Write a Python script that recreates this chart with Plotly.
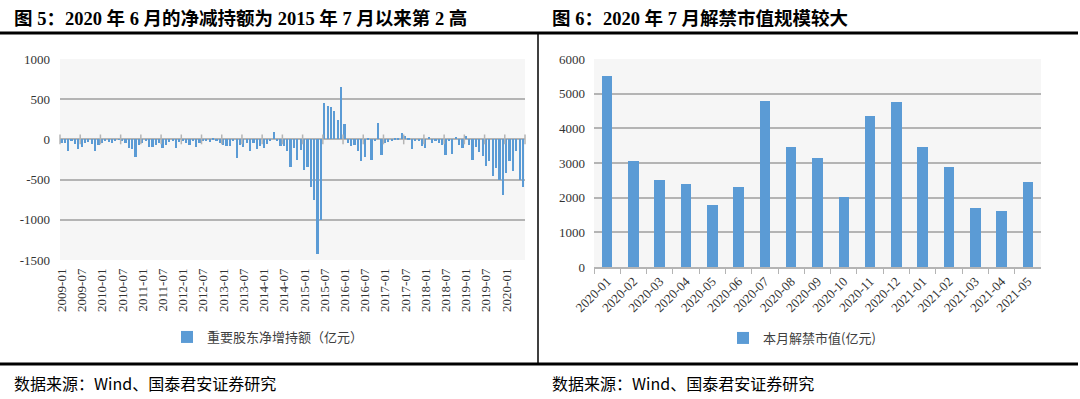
import plotly.graph_objects as go
import pandas as pd

# ---------------- data ----------------
months = [p.strftime("%Y-%m") for p in pd.period_range("2009-01", "2020-06", freq="M")]

net_holding = [
    -42, -50, -146, -21, -63, -125, -92, -42, -33, -63,
    -146, -75, -42, -21, -33, -50, -13, -4, -21, -42,
    -104, -125, -217, -75, -50, -21, -92, -92, -75, -50,
    -104, -75, -33, -21, -112, -33, -21, -50, -75, -21,
    -92, -42, -21, -13, -33, 13, -13, -42, -75, -83,
    -83, -21, -229, -75, -92, -42, -146, -50, -125, -83,
    -104, -63, -21, 96, -21,
    -83, -83, -146, -342, -104, -258, -133, -383, -342, -592,
    -758, -1430, -1000, 450, 417, 400, 354, 242, 658, 188,
    -50, -83, -75, -146, -271, -217, 10, -250, -21, 208,
    -188, -40, -33, -8, 17, 8, 83, 42, 17, -125,
    -20, -20, -83, -104, 33, -50, -25, -50, -75, -188,
    -8, -180, 29, -75, -104, 42, -75, -250, -92, -158,
    -208, -333, -271, -450, -354, -500, -688, -417, -271, -396,
    -146, -508, -592,
]

unlock_months = ["2020-01", "2020-02", "2020-03", "2020-04", "2020-05", "2020-06",
                 "2020-07", "2020-08", "2020-09", "2020-10", "2020-11", "2020-12",
                 "2021-01", "2021-02", "2021-03", "2021-04", "2021-05"]
unlock_value = [5519, 3048, 2500, 2385, 1788, 2298, 4788, 3471, 3144, 2019,
                4356, 4750, 3471, 2885, 1692, 1606, 2462]

left_yticks = [1000, 500, 0, -500, -1000, -1500]
right_yticks = [0, 1000, 2000, 3000, 4000, 5000, 6000]

left_title = "<b>图 5：2020 年 6 月的净减持额为 2015 年 7 月以来第 2 高</b>"
right_title = "<b>图 6：2020 年 7 月解禁市值规模较大</b>"
source_text = "数据来源：Wind、国泰君安证券研究"
left_series = "重要股东净增持额（亿元）"
right_series = "本月解禁市值(亿元)"

# ---------------- style ----------------
BLUE = "#5b9bd5"
GRID = "#b4b4b4"
TICKC = "#333333"
SERIF = "Liberation Serif, Noto Sans CJK SC, serif"
CJK = "Noto Sans CJK SC, sans-serif"
W, H = 1080, 399

def px_x(x):
    return x / W

def px_y(y):
    return 1 - y / H

fig = go.Figure()

idx = list(range(len(months)))
fig.add_trace(go.Bar(
    x=idx, y=net_holding, width=0.5, marker_color=BLUE, marker_line_width=0,
    name=left_series, xaxis="x", yaxis="y", legend="legend",
))
bounds = [i - 0.5 for i in range(0, len(months) + 1, 6)]
fig.add_trace(go.Scatter(
    x=bounds, y=[0] * len(bounds), mode="markers",
    marker=dict(symbol="line-ns", size=7, line=dict(color=GRID, width=1.5)),
    showlegend=False, hoverinfo="skip", xaxis="x", yaxis="y", cliponaxis=False,
))
fig.add_trace(go.Bar(
    x=unlock_months, y=unlock_value, width=0.4, marker_color=BLUE, marker_line_width=0,
    name=right_series, xaxis="x2", yaxis="y2", legend="legend2",
))

fig.update_layout(
    width=W, height=H,
    autosize=False,
    margin=dict(l=0, r=0, t=0, b=0, pad=0, autoexpand=False),
    paper_bgcolor="white",
    plot_bgcolor="#f6f6f6",
    bargap=0,
    xaxis=dict(
        domain=[px_x(60), px_x(525)], anchor="y", automargin=False,
        range=[-0.5, len(months) - 0.5],
        tickvals=idx[::6], ticktext=months[::6], tickangle=-90,
        showgrid=False, zeroline=False, ticks="", showline=False,
        ticklabelstandoff=5,
        tickfont=dict(family=SERIF, size=13, color=TICKC),
    ),
    yaxis=dict(
        domain=[px_y(260), px_y(59)], anchor="x", automargin=False,
        range=[-1500, 1000],
        tickvals=left_yticks, ticktext=[str(v) for v in left_yticks],
        showgrid=True, gridcolor=GRID, gridwidth=1.5,
        zeroline=True, zerolinecolor=GRID, zerolinewidth=1.5,
        ticks="", showline=False, ticklabelstandoff=9,
        tickfont=dict(family=SERIF, size=13, color=TICKC),
    ),
    xaxis2=dict(
        domain=[px_x(594), px_x(1041)], anchor="y2", automargin=False,
        type="category", tickson="boundaries", ticks="outside", ticklen=5,
        tickcolor=GRID, tickwidth=1.2,
        showline=True, linecolor=GRID, linewidth=1.5,
        showgrid=False, tickangle=-45,
        tickfont=dict(family=SERIF, size=13, color=TICKC),
    ),
    yaxis2=dict(
        domain=[px_y(267), px_y(59)], anchor="x2", automargin=False,
        range=[0, 6000], tickvals=right_yticks,
        showgrid=True, gridcolor=GRID, gridwidth=1.5,
        zeroline=False, ticks="", showline=False, ticklabelstandoff=8,
        tickfont=dict(family=SERIF, size=13, color=TICKC),
    ),
    legend=dict(
        x=px_x(268), y=px_y(337), xanchor="center", yanchor="middle",
        orientation="h", bgcolor="rgba(0,0,0,0)", itemwidth=30,
        font=dict(family=CJK, size=13, color="#404040"),
    ),
    legend2=dict(
        x=px_x(802), y=px_y(338), xanchor="center", yanchor="middle",
        orientation="h", bgcolor="rgba(0,0,0,0)", itemwidth=30,
        font=dict(family=CJK, size=13, color="#404040"),
    ),
    shapes=[
        dict(type="line", xref="paper", yref="paper", x0=0, x1=px_x(1078),
             y0=px_y(33), y1=px_y(33), line=dict(color="black", width=3)),
        dict(type="line", xref="paper", yref="paper", x0=0, x1=px_x(1078),
             y0=px_y(364), y1=px_y(364), line=dict(color="black", width=3)),
        dict(type="line", xref="paper", yref="paper", x0=px_x(538), x1=px_x(538),
             y0=px_y(34), y1=px_y(364), line=dict(color="black", width=1.5)),
    ],
    annotations=[
        dict(text=left_title, x=px_x(12), y=px_y(18), xref="paper", yref="paper",
             xanchor="left", yanchor="middle", showarrow=False,
             font=dict(family=SERIF, size=18.5, color="black")),
        dict(text=right_title, x=px_x(550), y=px_y(18), xref="paper", yref="paper",
             xanchor="left", yanchor="middle", showarrow=False,
             font=dict(family=SERIF, size=18.5, color="black")),
        dict(text=source_text, x=px_x(12), y=px_y(383), xref="paper", yref="paper",
             xanchor="left", yanchor="middle", showarrow=False,
             font=dict(family=CJK, size=16, color="black")),
        dict(text=source_text, x=px_x(550), y=px_y(383), xref="paper", yref="paper",
             xanchor="left", yanchor="middle", showarrow=False,
             font=dict(family=CJK, size=16, color="black")),
    ],
)

fig.write_html(
    "out.html",
    config={"displayModeBar": False},
    post_script="document.body.style.margin='0px';document.body.style.overflow='hidden';",
)
